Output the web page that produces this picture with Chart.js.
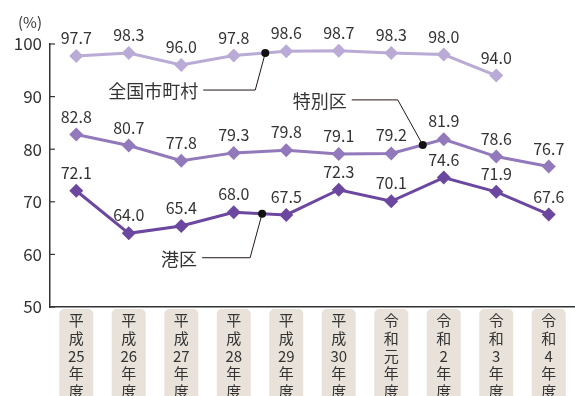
<!DOCTYPE html>
<html>
<head>
<meta charset="utf-8">
<script src="https://cdn.jsdelivr.net/npm/chart.js@4/dist/chart.umd.min.js"></script>
<style>
  html, body { margin: 0; padding: 0; background: #fff; overflow: hidden; }
  canvas { display: block; }
</style>
</head>
<body>
<canvas id="c" width="575" height="396"></canvas>
<script>
const years = [
  ['平','成','25','年','度'],
  ['平','成','26','年','度'],
  ['平','成','27','年','度'],
  ['平','成','28','年','度'],
  ['平','成','29','年','度'],
  ['平','成','30','年','度'],
  ['令','和','元','年','度'],
  ['令','和','2','年','度'],
  ['令','和','3','年','度'],
  ['令','和','4','年','度']
];
const seriesNames = ['全国市町村', '特別区', '港区'];
const zenkoku = [97.7, 98.3, 96.0, 97.8, 98.6, 98.7, 98.3, 98.0, 94.0, null];
const tokubetsuku = [82.8, 80.7, 77.8, 79.3, 79.8, 79.1, 79.2, 81.9, 78.6, 76.7];
const minato = [72.1, 64.0, 65.4, 68.0, 67.5, 72.3, 70.1, 74.6, 71.9, 67.6];
const yTicks = [50, 60, 70, 80, 90, 100];

const colors = ['#b9aad6', '#9279bb', '#6b479f'];
const FONT = '"Noto Sans CJK JP", "Noto Sans", sans-serif';
const TEXT = '#333333';

// callouts: which series, fractional category index, and elbow/label offsets (px)
const callouts = [
  { ds: 0, at: 3.6, elbow: [-10, 37], end: [-62, 37] },
  { ds: 1, at: 6.6, elbow: [-25, -45], end: [-71, -45] },
  { ds: 2, at: 3.54, elbow: [-12, 44], end: [-60, 44] }
];

const mkSet = (label, data, color) => ({
  label: label,
  data: data,
  borderColor: color,
  backgroundColor: color,
  borderWidth: 3,
  pointStyle: 'rectRot',
  pointRadius: 7,
  pointHoverRadius: 7,
  pointBorderWidth: 0,
  tension: 0,
  clip: false
});

const labelBoxes = {
  id: 'labelBoxes',
  beforeDraw(chart) {
    const ctx = chart.ctx;
    const x = chart.scales.x;
    ctx.save();
    ctx.fillStyle = '#e8e2da';
    years.forEach((y, i) => {
      const px = x.getPixelForValue(i);
      ctx.beginPath();
      ctx.roundRect(px - 17, chart.chartArea.bottom + 2, 34, 100, 5);
      ctx.fill();
    });
    ctx.restore();
  }
};

const extras = {
  id: 'extras',
  afterDraw(chart) {
    const ctx = chart.ctx;
    const ys = chart.scales.y;
    const area = chart.chartArea;
    ctx.save();
    // inner tick marks
    ctx.strokeStyle = '#333';
    ctx.lineWidth = 1.2;
    yTicks.forEach(v => {
      const py = ys.getPixelForValue(v);
      ctx.beginPath();
      ctx.moveTo(area.left, py);
      ctx.lineTo(area.left + 5, py);
      ctx.stroke();
    });
    // (%) unit
    ctx.fillStyle = TEXT;
    ctx.font = '15px ' + FONT;
    ctx.textAlign = 'center';
    ctx.textBaseline = 'middle';
    ctx.fillText('(%)', 30, 22);
    // value labels
    ctx.font = '16px ' + FONT;
    chart.data.datasets.forEach((ds, di) => {
      const meta = chart.getDatasetMeta(di);
      meta.data.forEach((pt, i) => {
        const v = ds.data[i];
        if (v == null) return;
        ctx.fillText(v.toFixed(1), pt.x, pt.y - 18);
      });
    });
    // callouts
    ctx.font = '18px ' + FONT;
    ctx.textAlign = 'right';
    callouts.forEach(c => {
      const pts = chart.getDatasetMeta(c.ds).data;
      const i0 = Math.floor(c.at), f = c.at - i0;
      const a = pts[i0], b = pts[i0 + 1];
      const dx = a.x + (b.x - a.x) * f;
      const dy = a.y + (b.y - a.y) * f;
      ctx.strokeStyle = '#231815';
      ctx.lineWidth = 1;
      ctx.beginPath();
      ctx.moveTo(dx, dy);
      ctx.lineTo(dx + c.elbow[0], dy + c.elbow[1]);
      ctx.lineTo(dx + c.end[0], dy + c.end[1]);
      ctx.stroke();
      ctx.fillStyle = '#111';
      ctx.beginPath();
      ctx.arc(dx, dy, 4, 0, Math.PI * 2);
      ctx.fill();
      ctx.fillStyle = TEXT;
      ctx.fillText(seriesNames[c.ds], dx + c.end[0] - 5, dy + c.end[1] + 1);
    });
    ctx.restore();
  }
};

new Chart(document.getElementById('c'), {
  type: 'line',
  data: {
    labels: years,
    datasets: [
      mkSet(seriesNames[0], zenkoku, colors[0]),
      mkSet(seriesNames[1], tokubetsuku, colors[1]),
      mkSet(seriesNames[2], minato, colors[2])
    ]
  },
  options: {
    responsive: false,
    animation: false,
    layout: { autoPadding: false, padding: { top: 44, right: 0, left: 0, bottom: 0 } },
    plugins: {
      legend: { display: false },
      tooltip: { enabled: false }
    },
    scales: {
      x: {
        offset: true,
        grid: { display: false, drawTicks: false, offset: true },
        border: { color: '#333', width: 1.5 },
        ticks: {
          color: TEXT,
          font: { family: FONT, size: 15, lineHeight: 1.17 },
          padding: 5,
          maxRotation: 0,
          autoSkip: false
        },
        afterFit(scale) {
          scale.height = 89;
          scale.paddingLeft = 0;
          scale.paddingRight = 0;
        }
      },
      y: {
        min: 50,
        max: 100,
        grid: { display: false, drawTicks: false },
        border: { color: '#333', width: 1.5 },
        ticks: {
          stepSize: 10,
          color: TEXT,
          padding: 8,
          font: { family: FONT, size: 17 }
        },
        afterFit(scale) { scale.width = 50; }
      }
    }
  },
  plugins: [labelBoxes, extras]
});
</script>
</body>
</html>
